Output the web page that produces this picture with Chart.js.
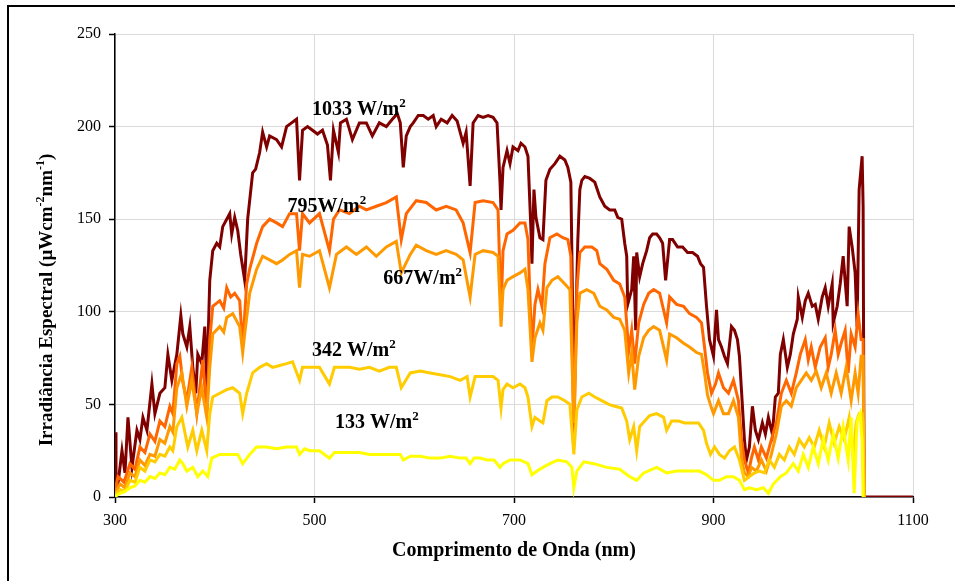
<!DOCTYPE html>
<html>
<head>
<meta charset="utf-8">
<script src="https://cdn.jsdelivr.net/npm/chart.js@4.4.0/dist/chart.umd.min.js"></script>
<style>
html, body { margin: 0; padding: 0; background: #fff; overflow: hidden; }
#wrap { position: relative; width: 955px; height: 581px; }
#chart { position: absolute; left: 0; top: 0; }
#frame { position: absolute; left: 7px; top: 5px; width: 1000px; height: 1000px; border: 2px solid #000; pointer-events: none; }
</style>
</head>
<body>
<div id="wrap">
  <canvas id="chart" width="955" height="581"></canvas>
  <div id="frame"></div>
</div>
<script>
// spectra, wavelength (nm) -> irradiance (uW cm-2 nm-1)
var wl1033 = [
  300,301,303,307,310,313,317,322,325,328,
  332,337,340,345,350,353,357,362,366,368,
  372,375,378,381,383,387,390,392,395,398,
  402,405,408,412,415,417,420,423,426,428,
  430,433,438,441,445,448,452,455,462,467,
  472,477,482,485,488,493,498,503,508,513,
  516,519,524,526,532,538,545,552,558,565,
  572,578,583,586,589,592,596,599,604,609,
  614,619,622,627,633,638,643,646,649,652,
  656,659,664,669,674,679,683,686,687,689,
  693,696,699,704,707,711,714,717,718,720,
  722,726,729,732,736,741,746,751,754,757,
  759,760,762,764,766,768,771,776,781,786,
  791,796,801,804,808,811,813,814,818,820,
  822,823,826,829,833,836,839,843,846,849,
  852,856,859,864,869,874,879,884,887,890,
  893,896,900,903,905,908,911,914,918,921,
  924,926,928,931,933,936,939,942,945,949,
  952,955,959,962,965,967,970,974,977,980,
  984,985,989,992,995,999,1002,1005,1009,1012,
  1015,1019,1020,1024,1027,1030,1034,1036,1039,1042,
  1044,1046,1049,1050,1051,1100
];
var irr1033 = [
  35,5,7,25,13,43,16,36,31,43,
  36,61,45,56,59,77,63,77,98,88,
  81,92,70,56,77,72,92,59,117,133,
  137,135,146,150,153,142,151,144,131,124,
  117,150,175,177,186,197,189,195,193,189,
  200,202,204,171,198,200,198,196,198,190,
  171,198,186,202,204,193,202,202,195,202,
  200,204,207,202,178,195,200,202,206,206,
  204,206,200,204,202,206,203,197,191,197,
  168,202,206,205,206,205,202,170,155,178,
  187,180,189,187,191,189,184,144,126,166,
  151,140,139,171,177,180,184,182,178,170,
  94,45,94,139,166,171,173,172,170,162,
  157,155,155,151,150,137,130,104,112,130,
  90,132,119,126,133,140,142,142,140,137,
  117,139,139,135,135,132,132,130,126,124,
  103,85,76,101,85,81,76,72,92,90,
  85,76,58,31,20,27,49,36,31,40,
  34,43,34,54,56,77,85,70,77,88,
  96,108,97,106,110,103,104,96,108,113,
  103,115,94,103,115,130,103,146,135,121,
  92,166,184,157,0,0
];

var wl795 = [
  300,303,309,315,320,325,330,335,340,345,
  350,355,358,362,365,368,372,377,382,385,
  388,392,395,398,405,409,412,416,420,425,
  428,432,435,442,448,455,462,468,475,482,
  485,488,495,505,515,519,525,535,545,552,
  562,572,582,587,592,602,612,622,632,642,
  649,656,661,669,679,684,687,689,693,699,
  706,711,714,716,718,721,724,728,731,736,
  743,749,754,757,760,763,766,771,778,783,
  786,793,800,806,811,815,818,821,825,830,
  835,840,846,853,856,863,870,876,883,888,
  891,894,898,902,905,910,915,920,925,928,
  931,935,938,941,945,948,953,958,963,968,
  973,978,983,987,992,995,998,1002,1007,1012,
  1015,1018,1022,1025,1028,1032,1035,1038,1042,1045,
  1048,1050,1051
];
var irr795 = [
  3,11,8,18,15,27,24,34,30,41,
  38,49,45,72,76,62,52,70,45,59,
  74,45,85,103,106,102,113,108,110,106,
  81,115,123,137,146,150,148,146,153,153,
  133,153,148,153,133,150,155,153,157,155,
  157,159,162,139,153,160,159,155,157,155,
  148,132,159,160,159,155,100,133,142,144,
  148,148,139,108,80,104,112,103,126,140,
  142,140,139,130,29,112,132,135,135,133,
  126,123,117,115,108,79,90,72,94,104,
  110,112,110,94,108,104,103,99,97,94,
  81,67,56,61,67,59,56,63,52,31,
  20,13,21,27,20,27,21,31,40,56,
  63,56,67,77,85,74,81,70,81,86,
  70,77,90,77,83,90,67,88,81,99,
  85,85,0
];

var wl667 = [
  300,305,310,315,320,325,330,335,340,345,
  350,355,358,362,367,372,377,382,387,392,
  395,398,405,409,412,418,425,428,430,435,
  442,448,455,462,468,475,482,485,488,495,
  505,515,522,532,542,552,562,572,582,587,
  596,602,612,622,632,642,649,656,661,669,
  679,684,687,689,693,699,706,711,714,718,
  721,726,729,733,738,744,751,756,760,763,
  766,773,780,786,793,800,806,811,815,818,
  821,825,830,835,840,846,853,856,863,870,
  876,883,888,891,894,898,900,905,910,915,
  920,925,928,931,935,938,943,948,953,958,
  963,968,973,978,983,988,993,998,1003,1008,
  1013,1018,1023,1028,1033,1038,1042,1045,1048,1050,
  1051
];
var irr667 = [
  2,7,5,13,11,20,17,23,22,31,
  29,38,35,59,67,49,63,45,59,43,
  70,88,92,89,97,99,92,78,88,110,
  123,130,128,126,128,131,133,113,131,130,
  133,113,131,135,131,135,130,135,138,121,
  131,136,133,131,133,131,128,108,131,133,
  132,130,92,112,117,119,121,123,112,73,
  86,94,90,113,117,119,115,112,40,94,
  110,112,110,103,101,97,96,90,67,78,
  58,76,86,90,92,90,74,88,86,83,
  81,78,77,67,55,48,45,52,45,45,
  52,43,21,13,11,16,14,20,14,23,
  34,49,52,49,59,63,67,63,68,59,
  67,56,67,56,70,52,67,56,76,76,
  0
];

var wl342 = [
  300,305,310,315,320,325,330,335,340,345,
  350,355,358,362,367,373,378,382,387,392,
  395,398,405,412,418,425,428,432,438,445,
  452,458,465,472,478,485,488,495,505,515,
  520,525,535,545,555,565,575,582,587,596,
  606,616,626,636,646,653,656,661,669,679,
  684,687,689,693,699,706,711,714,718,721,
  726,729,733,738,744,751,756,760,763,768,
  775,781,788,795,801,808,813,816,820,823,
  826,831,836,843,850,853,858,865,871,878,
  885,890,893,897,901,906,911,916,921,926,
  931,936,941,946,951,956,961,966,971,976,
  981,986,991,996,1001,1006,1011,1016,1021,1026,
  1031,1036,1040,1043,1046,1049,1050,1051
];
var irr342 = [
  1,4,3,9,8,16,14,20,19,23,
  22,27,25,38,43,27,36,25,36,25,
  45,54,56,58,59,56,45,56,67,70,
  72,70,71,72,73,63,70,70,70,61,
  70,70,70,69,70,68,70,70,59,67,
  68,67,66,65,63,65,54,65,65,65,
  63,48,58,61,59,61,59,54,38,43,
  41,40,52,54,54,52,50,23,47,54,
  56,54,52,50,49,48,41,31,38,25,
  38,41,44,45,43,36,41,41,40,40,
  40,36,29,23,27,23,21,25,27,20,
  9,11,13,14,13,20,16,23,20,27,
  23,31,27,32,27,36,27,40,29,38,
  31,43,21,40,45,45,40,0
];

var wl133 = [
  300,302,305,310,315,320,325,330,335,340,
  345,350,355,360,365,368,372,378,383,388,
  393,397,405,415,423,428,435,442,452,462,
  472,482,485,490,495,505,515,520,530,545,
  555,565,575,586,589,596,606,616,626,636,
  646,652,656,660,666,673,680,686,689,696,
  706,714,718,723,729,736,744,753,758,760,
  763,770,780,793,806,816,823,830,843,853,
  863,876,886,893,900,906,913,920,926,931,
  936,943,950,955,960,967,973,980,985,990,
  995,1000,1005,1010,1015,1020,1025,1030,1035,1038,
  1041,1044,1047,1049,1050
];
var irr133 = [
  0,1,2,3,5,6,9,8,11,10,
  13,12,16,15,20,18,14,16,11,14,
  11,21,23,23,23,18,23,27,27,26,
  27,27,23,26,25,25,21,24,24,24,
  23,23,23,23,20,22,22,21,21,22,
  21,21,18,21,21,20,20,16,18,20,
  20,18,12,14,16,18,20,19,16,5,
  14,19,18,16,15,11,9,13,16,13,
  14,14,14,12,9,9,11,11,9,4,
  5,4,5,2,7,11,13,18,14,23,
  16,27,18,31,20,34,21,38,20,43,
  2,41,45,30,0
];

// in-plot labels: text, left edge (nm), baseline (irradiance)
var labelText = ['1033 W/m', '795W/m', '667W/m', '342 W/m', '133 W/m'];
var labelX = [497.5, 473, 569, 497.5, 520.5];
var labelY = [206, 154, 115, 76, 37];

var serif = "'Liberation Serif', 'Times New Roman', serif";

function pts(wl, v) {
  return wl.map(function(x, i) { return {x: x, y: v[i]}; });
}

// draws [text, isSuperscript] pieces one after another
function richText(ctx, parts, x, y, size) {
  var cx = x;
  parts.forEach(function(p) {
    var s = p[1] ? Math.round(size * 0.65) : size;
    ctx.font = 'bold ' + s + 'px ' + serif;
    ctx.fillText(p[0], cx, p[1] ? y - size * 0.4 : y);
    cx += ctx.measureText(p[0]).width;
  });
  return cx - x;
}
function richWidth(ctx, parts, size) {
  var w = 0;
  parts.forEach(function(p) {
    var s = p[1] ? Math.round(size * 0.65) : size;
    ctx.font = 'bold ' + s + 'px ' + serif;
    w += ctx.measureText(p[0]).width;
  });
  return w;
}

var textPlugin = {
  id: 'textPlugin',
  afterDatasetsDraw: function(chart) {
    var ctx = chart.ctx, xs = chart.scales.x, ys = chart.scales.y;
    ctx.save();
    ctx.fillStyle = '#000';
    ctx.textBaseline = 'alphabetic';
    ctx.textAlign = 'left';
    for (var i = 0; i < labelText.length; i++) {
      richText(ctx, [[labelText[i], false], ['2', true]],
        xs.getPixelForValue(labelX[i]), ys.getPixelForValue(labelY[i]), 20);
    }
    ctx.restore();
  },
  afterDraw: function(chart) {
    var ctx = chart.ctx;
    var parts = [['Irradiância Espectral (µWcm', false], ['-2', true], ['nm', false], ['-1', true], [')', false]];
    ctx.save();
    ctx.fillStyle = '#000';
    ctx.textBaseline = 'alphabetic';
    ctx.textAlign = 'left';
    ctx.translate(52, 300);
    ctx.rotate(-Math.PI / 2);
    var w = richWidth(ctx, parts, 19);
    richText(ctx, parts, -w / 2, 0, 19);
    ctx.restore();
  }
};

Chart.defaults.font.family = serif;
Chart.defaults.color = '#000';

var gridOpts = { color: '#dadada', lineWidth: 1, tickLength: 6, tickColor: '#000', tickWidth: 1.5 };
var borderOpts = { color: '#000', width: 1.5 };

function series(data, color, order) {
  return {
    data: data,
    borderColor: color,
    backgroundColor: color,
    borderWidth: 3,
    pointRadius: 0,
    tension: 0,
    fill: false,
    order: order
  };
}

var ctx = document.getElementById('chart').getContext('2d');
var myChart = new Chart(ctx, {
  type: 'line',
  data: {
    datasets: [
      series(pts(wl1033, irr1033), '#800000', 4),
      series(pts(wl795, irr795), '#ff6600', 3),
      series(pts(wl667, irr667), '#ff9900', 2),
      series(pts(wl342, irr342), '#ffcc00', 1),
      series(pts(wl133, irr133), '#ffff00', 0)
    ]
  },
  options: {
    responsive: false,
    animation: false,
    devicePixelRatio: 1,
    layout: { padding: { left: 0, top: 34, right: 42, bottom: 0 } },
    plugins: {
      legend: { display: false },
      tooltip: { enabled: false }
    },
    scales: {
      x: {
        type: 'linear',
        min: 300,
        max: 1100,
        ticks: {
          stepSize: 200,
          font: { size: 16 },
          padding: 8,
          maxRotation: 0,
          callback: function(v) { return String(v); }
        },
        grid: gridOpts,
        border: borderOpts,
        title: {
          display: true,
          text: 'Comprimento de Onda (nm)',
          font: { size: 20, weight: 'bold' },
          padding: { top: 0, bottom: 18 }
        },
        afterFit: function(s) { s.height = 84; }
      },
      y: {
        type: 'linear',
        min: 0,
        max: 250,
        ticks: { stepSize: 50, font: { size: 16 }, padding: 8 },
        grid: gridOpts,
        border: borderOpts,
        afterFit: function(s) { s.width = 115; }
      }
    }
  },
  plugins: [textPlugin]
});
</script>
</body>
</html>
